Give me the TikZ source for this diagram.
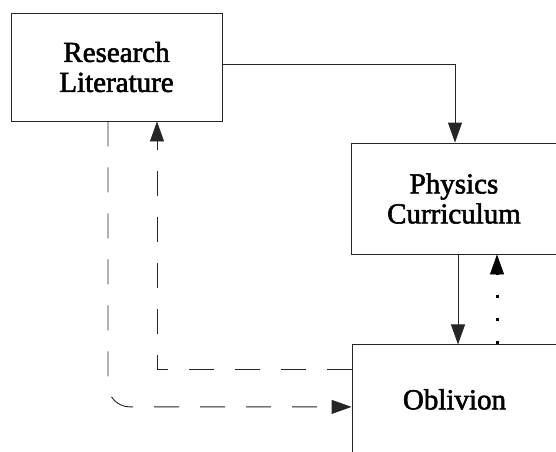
\documentclass[tikz,border=0pt]{standalone}
\usepackage{fontspec}
\newfontfamily\boxfont[FakeBold=2]{Liberation Serif}
\usetikzlibrary{positioning, arrows.meta}

\begin{document}
\begin{tikzpicture}[x=1pt, y=1pt, node distance=90pt]
    % Styles
    \tikzstyle{block} = [rectangle, draw=black!85, line width=0.9pt, align=center, inner sep=0pt, font=\boxfont\fontsize{29}{30}\selectfont]
    \tikzstyle{arrow} = [draw=black!85, line width=0.9pt, -{Triangle[length=20pt, width=14pt]}]
    \tikzstyle{dasharrow} = [arrow, dash pattern=on 25pt off 21pt]
    \tikzstyle{dotarrow} = [draw=black, line width=3pt, dash pattern=on 3pt off 20pt, -{Triangle[length=20pt, width=14pt, line width=0.9pt]}]

    \useasboundingbox (0,0) rectangle (556,451);

    % Nodes
    \node (research) [block, minimum width=211pt, minimum height=108pt] at (116.5,384) {Research\\Literature};
    \node (physics) [block, minimum width=206pt, minimum height=111pt] at (454,252.5) {Physics\\Curriculum};
    \node (oblivion) [block, minimum width=205pt, minimum height=109pt, below=of physics, xshift=0.5pt] {Oblivion};

    % Paths
    \draw [arrow] ([yshift=3pt]research.east) -| ([xshift=1pt]physics.north);
    \draw [arrow] ([xshift=4pt]physics.south) -- ([xshift=3.5pt]oblivion.north);
    \draw [dotarrow] ([xshift=42.5pt]oblivion.north) -- ([xshift=43pt]physics.south);
    \draw [dasharrow, rounded corners=22pt] ([xshift=-8.5pt]research.south) |- ([yshift=-7.5pt]oblivion.west);
    \draw [dasharrow] ([yshift=29.5pt]oblivion.west) -| ([xshift=40.5pt]research.south);

\end{tikzpicture}
\end{document}
